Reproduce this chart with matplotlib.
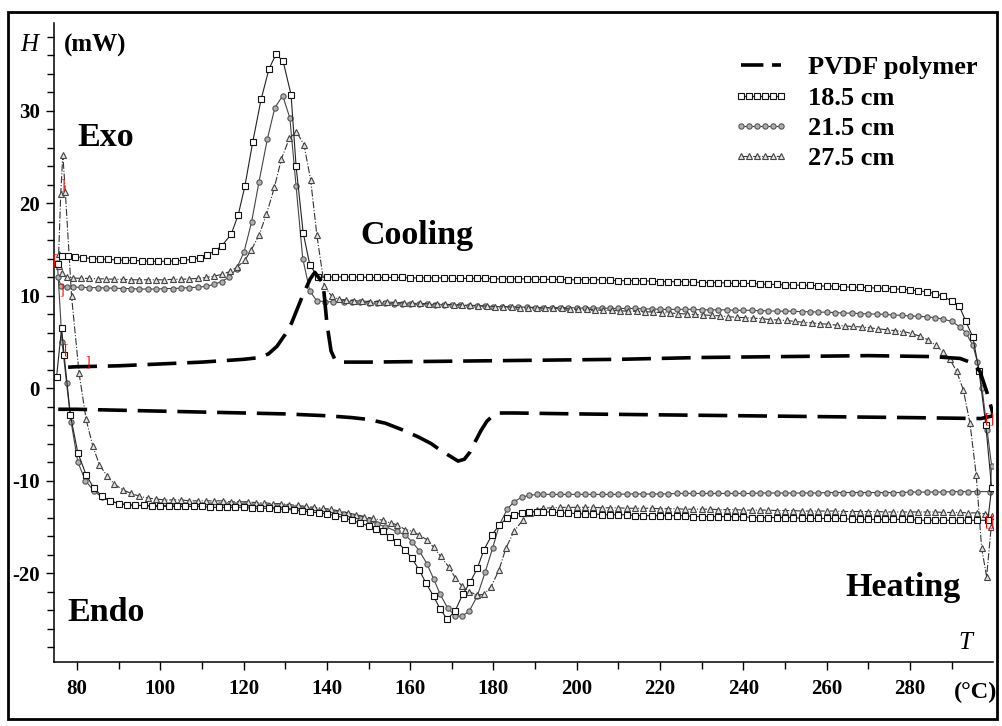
import numpy as np
import matplotlib.pyplot as plt
from matplotlib.patches import Rectangle
from matplotlib.ticker import MultipleLocator

plt.rcParams['font.family'] = ['Liberation Serif', 'DejaVu Serif']
plt.rcParams['axes.unicode_minus'] = False

# (T, H) pairs; heating runs up in T, cooling runs back down
heat_pvdf = [(75.5, -2.3), (80, -2.3), (90, -2.4), (100, -2.5), (110, -2.6), (120, -2.7), (130, -2.8),
             (140, -3.0), (146, -3.2), (150, -3.4), (154, -3.8), (158, -4.5), (162, -5.3), (165, -6.0),
             (167.5, -6.8), (169.7, -7.4), (171.5, -7.9), (173, -7.7), (174.4, -6.9), (175.6, -5.8),
             (177, -4.6), (178.4, -3.6), (179.8, -3.0), (181.2, -2.7), (185, -2.7), (200, -2.8),
             (220, -2.9), (240, -3.0), (260, -3.1), (280, -3.2), (297, -3.3), (300, -3.0)]
cool_pvdf = [(300, -2.9), (298.5, -0.5), (296.8, 1.8), (295, 2.7), (292, 3.2), (285, 3.4), (270, 3.5),
             (250, 3.4), (230, 3.3), (210, 3.1), (190, 3.0), (170, 2.9), (150, 2.8), (144, 2.8),
             (142, 3.0), (141, 4.0), (140, 7.0), (139.1, 11.3), (137.1, 12.5), (136, 11.8), (134, 9.8),
             (131.5, 7.0), (130, 5.8), (128, 4.5), (126, 3.7), (124, 3.3), (120, 3.1), (110, 2.8),
             (100, 2.6), (90, 2.4), (80, 2.3), (75.5, 2.2)]

heat_185 = [(75.1, 1.2), (76.3, 6.5), (76.9, 3.6), (78.4, -2.9), (80.2, -7.0), (82.2, -9.4), (84, -10.8),
            (86, -11.7), (88, -12.2), (90, -12.5), (92, -12.6), (94, -12.7), (96, -12.7), (98, -12.8),
            (100, -12.8), (102, -12.8), (104, -12.8), (106, -12.8), (108, -12.8), (110, -12.8),
            (112, -12.9), (114, -12.9), (116, -12.9), (118, -12.9), (120, -12.9), (122, -13.0),
            (124, -13.0), (126, -13.0), (128, -13.1), (130, -13.1), (132, -13.2), (134, -13.3),
            (136, -13.4), (138, -13.5), (140, -13.6), (142, -13.8), (144, -14.0), (146, -14.3),
            (148, -14.6), (150, -14.9), (151.7, -15.2), (153.4, -15.5), (155.2, -16.1), (156.9, -16.7),
            (158.8, -17.5), (160.4, -18.4), (162.2, -19.7), (163.8, -21.1), (165.6, -22.5),
            (167.2, -23.9), (168.9, -25.0), (170.8, -24.1), (172.6, -22.3), (174.4, -21.0),
            (176.1, -19.5), (177.7, -17.5), (179.6, -15.9), (181.4, -14.8), (183.2, -14.1),
            (184.9, -13.7), (186.8, -13.5), (188.6, -13.4), (190.4, -13.4), (192, -13.4), (194, -13.4),
            (196, -13.5), (198, -13.5), (200, -13.6), (202, -13.6), (204, -13.6), (206, -13.7),
            (208, -13.7), (210, -13.7), (212, -13.7), (214, -13.8), (216, -13.8), (218, -13.8),
            (220, -13.8), (222, -13.8), (224, -13.8), (226, -13.8), (228, -13.9), (230, -13.9),
            (232, -13.9), (234, -13.9), (236, -13.9), (238, -13.9), (240, -13.9), (242, -14.0),
            (244, -14.0), (246, -14.0), (248, -14.0), (250, -14.0), (252, -14.0), (254, -14.1),
            (256, -14.1), (258, -14.1), (260, -14.1), (262, -14.1), (264, -14.1), (266, -14.2),
            (268, -14.2), (270, -14.2), (272, -14.2), (274, -14.2), (276, -14.2), (278, -14.2),
            (280, -14.2), (282, -14.3), (284, -14.3), (286, -14.3), (288, -14.3), (290, -14.3),
            (292, -14.3), (294, -14.3), (296, -14.3), (298.7, -14.3)]
cool_185 = [(299.6, -10.8), (298.2, -4.0), (296.6, 1.8), (295.1, 5.5), (293.4, 7.2), (291.8, 8.9),
            (290, 9.4), (288, 9.9), (286, 10.2), (284, 10.4), (282, 10.5), (280, 10.6), (278, 10.7),
            (276, 10.7), (274, 10.8), (272, 10.8), (270, 10.85), (268, 10.9), (266, 10.9), (264, 10.95),
            (262, 11.0), (260, 11.0), (258, 11.05), (256, 11.1), (254, 11.1), (252, 11.15), (250, 11.15),
            (248, 11.2), (246, 11.2), (244, 11.25), (242, 11.3), (240, 11.3), (238, 11.3), (236, 11.35),
            (234, 11.4), (232, 11.4), (230, 11.4), (228, 11.45), (226, 11.5), (224, 11.5), (222, 11.5),
            (220, 11.5), (218, 11.55), (216, 11.6), (214, 11.6), (212, 11.6), (210, 11.6), (208, 11.65),
            (206, 11.7), (204, 11.7), (202, 11.7), (200, 11.7), (198, 11.7), (196, 11.75), (194, 11.75),
            (192, 11.75), (190, 11.75), (188, 11.8), (186, 11.8), (184, 11.8), (182, 11.8), (180, 11.8),
            (178, 11.85), (176, 11.85), (174, 11.85), (172, 11.85), (170, 11.85), (168, 11.9),
            (166, 11.9), (164, 11.9), (162, 11.9), (160, 11.9), (158, 11.95), (156, 11.95),
            (154, 11.95), (152, 11.95), (150, 11.95), (148, 12.0), (146, 12.0), (144, 12.0),
            (142, 12.0), (140, 12.0), (137.9, 12.0), (135.9, 13.3), (134.3, 16.8), (132.6, 24.0),
            (131.4, 31.7), (129.5, 35.3), (127.8, 36.1), (126.1, 34.5), (124.2, 31.2), (122.2, 26.6),
            (120.3, 21.8), (118.7, 18.7), (117, 16.6), (114.8, 15.4), (113.1, 14.8), (111.2, 14.4),
            (109.5, 14.1), (107.5, 13.9), (105.5, 13.8), (103.5, 13.75), (101.5, 13.7), (99.5, 13.7),
            (97.5, 13.7), (95.5, 13.75), (93.5, 13.8), (91.5, 13.8), (89.5, 13.85), (87.5, 13.9),
            (85.5, 13.95), (83.5, 14.0), (81.5, 14.1), (79.5, 14.2), (77.8, 14.3), (76.3, 14.3),
            (75.5, 13.4)]

heat_215 = [(75.3, 13.5), (76.4, 5.0), (77.5, 0.5), (78.6, -3.7), (80.2, -8.0), (82, -10.0), (84, -11.1),
            (86, -11.8), (88, -12.2), (90, -12.5), (92, -12.6), (94, -12.7), (96, -12.7), (98, -12.7),
            (100, -12.7), (102, -12.7), (104, -12.6), (106, -12.6), (108, -12.6), (110, -12.6),
            (112, -12.6), (114, -12.6), (116, -12.7), (118, -12.7), (120, -12.7), (122, -12.8),
            (124, -12.8), (126, -12.8), (128, -12.9), (130, -12.9), (132, -13.0), (134, -13.1),
            (136, -13.2), (138, -13.3), (140, -13.4), (142, -13.5), (144, -13.6), (146, -13.8),
            (148, -14.0), (150, -14.3), (152, -14.7), (154, -15.0), (156.8, -15.5), (158.8, -15.9),
            (160.4, -16.6), (162.2, -17.6), (164, -19.0), (165.6, -20.6), (167.2, -22.3),
            (169, -23.8), (170.8, -24.6), (172.4, -24.7), (174.2, -24.1), (176.1, -22.5), (178, -19.9),
            (179.8, -17.3), (181.4, -14.8), (183.3, -13.1), (184.9, -12.3), (186.8, -11.8),
            (188.6, -11.6), (190.4, -11.5), (192, -11.5), (194, -11.5), (196, -11.5), (198, -11.5),
            (200, -11.5), (202, -11.5), (204, -11.5), (206, -11.5), (208, -11.5), (210, -11.5),
            (212, -11.45), (214, -11.45), (216, -11.45), (218, -11.45), (220, -11.45), (222, -11.45),
            (224, -11.4), (226, -11.4), (228, -11.4), (230, -11.4), (232, -11.4), (234, -11.4),
            (236, -11.4), (238, -11.4), (240, -11.4), (242, -11.4), (244, -11.35), (246, -11.35),
            (248, -11.35), (250, -11.35), (252, -11.35), (254, -11.35), (256, -11.35), (258, -11.35),
            (260, -11.3), (262, -11.3), (264, -11.3), (266, -11.3), (268, -11.3), (270, -11.3),
            (272, -11.3), (274, -11.3), (276, -11.3), (278, -11.3), (280, -11.25), (282, -11.25),
            (284, -11.25), (286, -11.25), (288, -11.25), (290, -11.2), (292, -11.2), (294, -11.2),
            (296, -11.2), (299.2, -11.2)]
cool_215 = [(299.6, -8.4), (298.5, -4.5), (297.3, 0.0), (296.2, 2.8), (295.1, 4.6), (293.4, 6.0),
            (292, 6.6), (290, 7.2), (288, 7.45), (286, 7.6), (284, 7.7), (282, 7.75), (280, 7.8),
            (278, 7.85), (276, 7.9), (274, 7.95), (272, 8.0), (270, 8.0), (268, 8.05), (266, 8.1),
            (264, 8.1), (262, 8.15), (260, 8.2), (258, 8.2), (256, 8.25), (254, 8.25), (252, 8.3),
            (250, 8.3), (248, 8.3), (246, 8.35), (244, 8.35), (242, 8.4), (240, 8.4), (238, 8.4),
            (236, 8.45), (234, 8.45), (232, 8.45), (230, 8.45), (228, 8.5), (226, 8.5), (224, 8.5),
            (222, 8.5), (220, 8.5), (218, 8.55), (216, 8.55), (214, 8.6), (212, 8.6), (210, 8.6),
            (208, 8.6), (206, 8.65), (204, 8.65), (202, 8.65), (200, 8.65), (198, 8.7), (196, 8.7),
            (194, 8.7), (192, 8.7), (190, 8.7), (188, 8.75), (186, 8.75), (184, 8.8), (182, 8.8),
            (180, 8.8), (178, 8.85), (176, 8.9), (174, 8.9), (172, 8.95), (170, 8.95), (168, 9.0),
            (166, 9.0), (164, 9.05), (162, 9.05), (160, 9.05), (158, 9.1), (156, 9.1), (154, 9.15),
            (152, 9.15), (150, 9.2), (148, 9.25), (146, 9.3), (144, 9.3), (141.5, 9.3), (139.5, 9.35),
            (137.6, 9.4), (135.9, 10.5), (134.2, 14.0), (132.6, 21.8), (131.1, 29.2), (129.4, 31.6),
            (127.5, 30.3), (125.7, 26.9), (123.7, 22.3), (121.9, 17.9), (120.1, 14.7), (118.3, 12.9),
            (116.6, 12.0), (114.7, 11.5), (112.9, 11.2), (111, 11.0), (109, 10.9), (107, 10.85),
            (105, 10.8), (103, 10.75), (101, 10.75), (99, 10.7), (97, 10.7), (95, 10.7), (93, 10.75),
            (91, 10.75), (89, 10.8), (87, 10.8), (85, 10.85), (83, 10.85), (81, 10.9), (79, 10.9),
            (77.5, 10.95), (76.2, 11.0), (75.4, 12.0)]

heat_275 = [(75.6, 14.5), (76.1, 21.0), (76.6, 25.2), (77.2, 21.2), (78.7, 9.9), (80.5, 1.6), (82.2, -3.4),
            (83.8, -6.3), (85.4, -8.3), (87.2, -9.5), (89, -10.4), (91, -11.0), (93, -11.4), (95, -11.7),
            (97, -11.9), (99, -12.0), (101, -12.1), (103, -12.1), (105, -12.1), (107, -12.2),
            (109, -12.2), (111, -12.2), (113, -12.2), (115, -12.2), (117, -12.3), (119, -12.3),
            (121, -12.3), (123, -12.4), (125, -12.4), (127, -12.5), (129, -12.5), (131, -12.6),
            (133, -12.7), (135, -12.8), (137, -12.9), (139, -13.0), (141, -13.1), (143, -13.3),
            (145, -13.5), (147, -13.7), (149, -13.9), (151, -14.1), (153.5, -14.3), (155.3, -14.6),
            (156.9, -14.8), (158.8, -15.3), (160.6, -15.5), (162.2, -15.9), (164, -16.4),
            (165.6, -17.2), (167.3, -18.2), (169.2, -19.3), (170.8, -20.5), (172.4, -21.4),
            (174.2, -22.0), (176, -22.4), (177.7, -22.3), (179.4, -21.5), (181.3, -19.7), (183, -17.3),
            (184.9, -15.5), (187, -14.3), (188.8, -13.5), (190.4, -13.2), (192, -13.0), (194, -12.95),
            (196, -12.9), (198, -12.9), (200, -12.9), (202, -12.9), (204, -12.9), (206, -12.95),
            (208, -12.95), (210, -12.95), (212, -13.0), (214, -13.0), (216, -13.0), (218, -13.0),
            (220, -13.05), (222, -13.05), (224, -13.05), (226, -13.1), (228, -13.1), (230, -13.1),
            (232, -13.1), (234, -13.15), (236, -13.15), (238, -13.15), (240, -13.2), (242, -13.2),
            (244, -13.2), (246, -13.2), (248, -13.25), (250, -13.25), (252, -13.25), (254, -13.3),
            (256, -13.3), (258, -13.3), (260, -13.3), (262, -13.3), (264, -13.35), (266, -13.35),
            (268, -13.35), (270, -13.35), (272, -13.35), (274, -13.4), (276, -13.4), (278, -13.4),
            (280, -13.4), (282, -13.4), (284, -13.4), (286, -13.4), (288, -13.45), (290, -13.45),
            (292, -13.45), (294, -13.5), (296, -13.5), (298, -13.6), (299.6, -13.8)]
cool_275 = [(299.5, -15.0), (298.4, -20.4), (297.2, -17.3), (295.9, -9.4), (294.4, -3.8), (292.8, -0.2),
            (291.2, 1.8), (289.6, 3.1), (288, 3.9), (286.2, 4.6), (284.4, 5.2), (282.4, 5.6),
            (280.4, 5.9), (278.4, 6.1), (276.4, 6.2), (274.4, 6.3), (272.4, 6.4), (270.4, 6.5),
            (268.4, 6.6), (266.4, 6.65), (264.4, 6.7), (262.4, 6.8), (260.4, 6.9), (258.4, 6.95),
            (256.4, 7.05), (254.4, 7.1), (252.4, 7.2), (250.4, 7.3), (248.4, 7.35), (246.4, 7.4),
            (244.4, 7.5), (242.4, 7.55), (240.4, 7.6), (238.4, 7.65), (236.4, 7.7), (234.4, 7.8),
            (232.4, 7.85), (230.4, 7.9), (228.4, 7.95), (226.4, 8.0), (224.4, 8.05), (222.4, 8.1),
            (220.4, 8.15), (218.4, 8.2), (216.4, 8.25), (214.4, 8.3), (212.4, 8.3), (210.4, 8.35),
            (208.4, 8.4), (206.4, 8.4), (204.4, 8.45), (202.4, 8.5), (200.4, 8.5), (198.4, 8.55),
            (196.4, 8.6), (194.4, 8.6), (192.4, 8.65), (190.4, 8.65), (188.4, 8.7), (186.4, 8.7),
            (184.4, 8.75), (182.4, 8.8), (180.4, 8.8), (178.4, 8.85), (176.4, 8.9), (174.4, 8.95),
            (172.4, 9.0), (170.4, 9.0), (168.4, 9.05), (166.4, 9.1), (164.4, 9.1), (162.4, 9.15),
            (160.4, 9.15), (158.4, 9.2), (156.4, 9.25), (154.4, 9.3), (152.4, 9.35), (150.4, 9.35),
            (148.4, 9.4), (146.4, 9.45), (144.6, 9.5), (142.9, 9.6), (141.2, 9.9), (139.4, 11.0),
            (137.6, 16.5), (136.1, 22.5), (134.5, 26.3), (132.7, 27.7), (131, 27.0), (129.1, 24.8),
            (127.4, 21.7), (125.5, 18.8), (123.7, 16.5), (121.8, 14.9), (120.3, 13.8), (118.5, 13.1),
            (116.7, 12.6), (114.9, 12.3), (113, 12.1), (111, 11.95), (109, 11.85), (107, 11.8),
            (105, 11.75), (103, 11.75), (101, 11.7), (99, 11.7), (97, 11.7), (95, 11.7), (93, 11.7),
            (91, 11.75), (89, 11.75), (87, 11.8), (85, 11.8), (83, 11.85), (81, 11.85), (79, 11.9),
            (77.5, 12.0), (76.3, 12.4), (75.6, 13.2)]

labels = ['PVDF polymer', '18.5 cm', '21.5 cm', '27.5 cm']

fig = plt.figure(figsize=(10.03, 7.26), dpi=100)
W, H = 1003, 726
ax = fig.add_axes([54 / W, 1 - 662 / H, (993 - 54) / W, (662 - 23) / H])
ax.set_xlim(74.48, 299.93)
ax.set_ylim(-29.62, 39.46)


def loop(heat, cool):
    pts = np.array(heat + cool)
    return pts[:, 0], pts[:, 1]


x, y = loop(heat_185, cool_185)
l1, = ax.plot(x, y, '-', color='#222222', lw=0.8, marker='s', ms=4.3, mfc='white', mec='#111111',
              mew=0.8, label=labels[1], zorder=3)
x, y = loop(heat_215, cool_215)
l2, = ax.plot(x, y, '-', color='#444444', lw=0.8, marker='o', ms=3.8, mfc='#b0b0b0', mec='#555555',
              mew=0.8, label=labels[2], zorder=2)
x, y = loop(heat_275, cool_275)
l3, = ax.plot(x, y, '-.', color='#333333', lw=0.8, marker='^', ms=5.0, mfc='#e4e4e4', mec='#444444',
              mew=0.8, label=labels[3], zorder=2)
x, y = loop(heat_pvdf, cool_pvdf)
l0, = ax.plot(x, y, color='black', lw=2.6, dashes=(8, 3), label=labels[0], zorder=4)

# red bracket marks left by the instrument software
for bx, by, s in [(74.9, 13.8, '['), (76.6, 21.9, ']'), (76.4, 10.6, ']'), (77.4, 4.1, '['),
                  (82.6, 2.8, ']'), (299.2, -3.4, '[]'), (299.2, -14.5, '[]')]:
    ax.text(bx, by, s, color='red', fontsize=10, ha='center', va='center', zorder=5)

for side in ['top', 'right']:
    ax.spines[side].set_visible(False)
for side in ['left', 'bottom']:
    ax.spines[side].set_linewidth(1.1)

ax.xaxis.set_major_locator(MultipleLocator(20))
ax.xaxis.set_minor_locator(MultipleLocator(10))
ax.yaxis.set_major_locator(MultipleLocator(10))
ax.yaxis.set_minor_locator(MultipleLocator(2))
ax.tick_params(which='major', direction='out', length=6, width=1.0, labelsize=15, pad=6)
ax.tick_params(which='minor', direction='out', length=5, width=1.0)
ax.tick_params(axis='y', pad=4)
ax.set_xticks([80, 100, 120, 140, 160, 180, 200, 220, 240, 260, 280])
for lab in ax.get_xticklabels() + ax.get_yticklabels():
    lab.set_fontweight('bold')

big = dict(fontsize=24.5, fontweight='bold', va='center')
ax.text(80, 27.1, 'Exo', **big)
ax.text(77.8, -24.3, 'Endo', **big)
ax.text(148, 16.5, 'Cooling', **big)
ax.text(264.4, -21.6, 'Heating', **big)

fig.text(20 / W, 1 - 45 / H, 'H', fontsize=18, style='italic', va='center')
fig.text(64 / W, 1 - 45 / H, '(mW)', fontsize=18, fontweight='bold', va='center')
fig.text(958 / W, 1 - 643 / H, 'T', fontsize=18, style='italic', va='center')
fig.text(954 / W, 1 - 692 / H, '(°C)', fontsize=17.5, fontweight='bold', va='center')

leg = ax.legend(handles=[l0, l1, l2, l3], loc='upper left', bbox_to_anchor=(733 / W, 1 - 56 / H),
                bbox_transform=fig.transFigure, frameon=False, borderaxespad=0, borderpad=0,
                numpoints=6, handlelength=2.1, handletextpad=0.75, labelspacing=0.26,
                prop={'family': 'Liberation Serif', 'weight': 'bold', 'size': 19})
leg.get_lines()[0].set_dashes((6.2, 2.4))

fig.add_artist(Rectangle((8 / W, 1 - 719 / H), (997 - 8) / W, (719 - 12) / H, transform=fig.transFigure,
                         fill=False, lw=2.0, ec='black'))

fig.savefig('out.png', dpi=100)
